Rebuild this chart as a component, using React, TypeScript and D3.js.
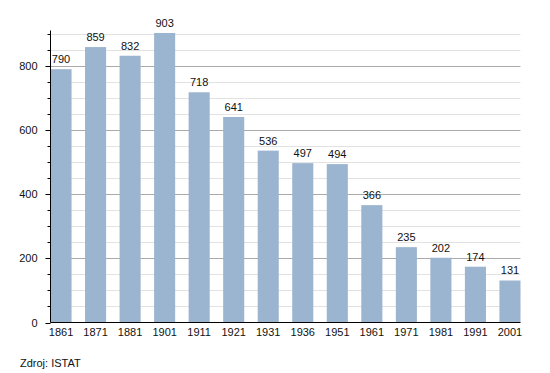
import React from 'react';
import * as d3 from 'd3';

const years = ['1861', '1871', '1881', '1901', '1911', '1921', '1931', '1936', '1951', '1961', '1971', '1981', '1991', '2001'];
const population = [790, 859, 832, 903, 718, 641, 536, 497, 494, 366, 235, 202, 174, 131];
const majorTicks = [0, 200, 400, 600, 800];
const minorTicks = d3.range(50, 951, 50).filter(v => v % 200 !== 0 && v <= 900);

const width = 550;
const height = 373;
const left = 50.5;
const right = 520.5;
const bottom = 322.5;
const top = 30.5;

const App = () => {
  const x = d3
    .scaleBand<string>()
    .domain(years)
    .range([left, right])
    .paddingInner(0.39)
    .paddingOuter(0);

  const y = d3.scaleLinear().domain([0, 800]).range([bottom, 66]);

  const font = 'Liberation Sans, Arial, sans-serif';

  return (
    <svg
      width={width}
      height={height}
      style={{ position: 'absolute', left: 0, top: 0 }}
      fontFamily={font}
    >
      <rect width={width} height={height} fill="#fff" />
      {minorTicks.map(t => (
        <line key={'g' + t} x1={left} x2={right} y1={Math.round(y(t)) + 0.5} y2={Math.round(y(t)) + 0.5} stroke="#e2e2e2" />
      ))}
      {majorTicks.slice(1).map(t => (
        <line key={'G' + t} x1={left} x2={right} y1={Math.round(y(t)) + 0.5} y2={Math.round(y(t)) + 0.5} stroke="#aaaaaa" />
      ))}
      {years.map((yr, i) => (
        <rect
          key={yr}
          x={x(yr)}
          y={y(population[i])}
          width={x.bandwidth()}
          height={bottom - y(population[i])}
          fill="#9bb4cf"
        />
      ))}
      {years.map((yr, i) => (
        <text
          key={'l' + yr}
          x={(x(yr) as number) + x.bandwidth() / 2}
          y={y(population[i]) - 6}
          textAnchor="middle"
          fontSize={11}
          fill="#111"
        >
          {population[i]}
        </text>
      ))}
      <line x1={left} x2={left} y1={top} y2={bottom} stroke="#000" />
      <line x1={left} x2={right} y1={bottom} y2={bottom} stroke="#000" />
      {minorTicks.map(t => (
        <line key={'mt' + t} x1={left - 3} x2={left} y1={Math.round(y(t)) + 0.5} y2={Math.round(y(t)) + 0.5} stroke="#000" />
      ))}
      {majorTicks.map(t => (
        <g key={'t' + t}>
          <line x1={left - 5} x2={left} y1={Math.round(y(t)) + 0.5} y2={Math.round(y(t)) + 0.5} stroke="#000" />
          <text x={left - 13} y={y(t) + 4} textAnchor="end" fontSize={11} fill="#111">
            {t}
          </text>
        </g>
      ))}
      {years.map(yr => (
        <text
          key={'x' + yr}
          x={(x(yr) as number) + x.bandwidth() / 2}
          y={bottom + 13}
          textAnchor="middle"
          fontSize={11}
          fill="#111"
        >
          {yr}
        </text>
      ))}
      <text x={20} y={367} fontSize={11} fill="#111">
        Zdroj: ISTAT
      </text>
    </svg>
  );
};

export default App;
